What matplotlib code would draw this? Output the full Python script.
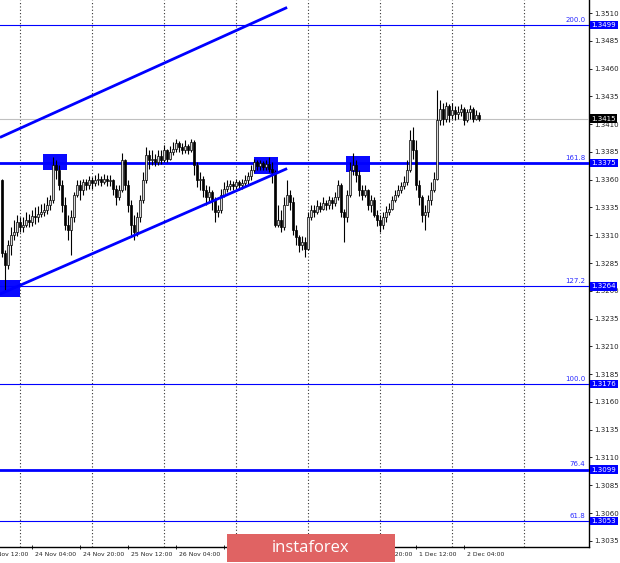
import matplotlib
matplotlib.use("Agg")
import matplotlib.pyplot as plt
from matplotlib.patches import Rectangle

# hourly GBP/USD candles (open of first bar, then close/high/low per bar)
first_open = 1.3360
close = [1.3294, 1.3283, 1.3301, 1.3310, 1.3313, 1.3322, 1.3317, 1.3319, 1.3324, 1.3322,
         1.3327, 1.3326, 1.3329, 1.3331, 1.3333, 1.3337, 1.3342, 1.3373, 1.3369, 1.3355,
         1.3337, 1.3319, 1.3315, 1.3326, 1.3346, 1.3355, 1.3351, 1.3358, 1.3355, 1.3360,
         1.3357, 1.3360, 1.3361, 1.3358, 1.3361, 1.3359, 1.3360, 1.3352, 1.3344, 1.3351,
         1.3378, 1.3355, 1.3337, 1.3319, 1.3313, 1.3326, 1.3342, 1.3360, 1.3382, 1.3378,
         1.3379, 1.3376, 1.3381, 1.3378, 1.3387, 1.3379, 1.3385, 1.3388, 1.3393, 1.3389,
         1.3387, 1.3390, 1.3387, 1.3394, 1.3373, 1.3360, 1.3361, 1.3351, 1.3344, 1.3349,
         1.3342, 1.3331, 1.3333, 1.3346, 1.3352, 1.3354, 1.3356, 1.3354, 1.3358, 1.3355,
         1.3357, 1.3360, 1.3363, 1.3369, 1.3376, 1.3372, 1.3375, 1.3371, 1.3374, 1.3370,
         1.3367, 1.3319, 1.3324, 1.3317, 1.3337, 1.3346, 1.3340, 1.3315, 1.3308, 1.3301,
         1.3304, 1.3298, 1.3326, 1.3333, 1.3331, 1.3336, 1.3334, 1.3339, 1.3337, 1.3342,
         1.3339, 1.3344, 1.3355, 1.3331, 1.3326, 1.3346, 1.3369, 1.3373, 1.3364, 1.3351,
         1.3346, 1.3351, 1.3337, 1.3342, 1.3328, 1.3324, 1.3319, 1.3326, 1.3331, 1.3334,
         1.3342, 1.3346, 1.3351, 1.3354, 1.3358, 1.3369, 1.3396, 1.3387, 1.3355, 1.3344,
         1.3328, 1.3331, 1.3342, 1.3351, 1.3361, 1.3414, 1.3424, 1.3415, 1.3426, 1.3418,
         1.3423, 1.3419, 1.3421, 1.3424, 1.3414, 1.3421, 1.3424, 1.3415, 1.3418, 1.3415]
high = [1.3361, 1.3297, 1.3306, 1.3317, 1.3324, 1.3328, 1.3326, 1.3326, 1.3331, 1.3329,
        1.3333, 1.3335, 1.3336, 1.3338, 1.3339, 1.3344, 1.3346, 1.3380, 1.3378, 1.3373,
        1.3360, 1.3344, 1.3328, 1.3333, 1.3349, 1.3360, 1.3360, 1.3361, 1.3361, 1.3363,
        1.3362, 1.3364, 1.3366, 1.3363, 1.3365, 1.3364, 1.3364, 1.3361, 1.3355, 1.3355,
        1.3384, 1.3379, 1.3360, 1.3342, 1.3328, 1.3331, 1.3346, 1.3367, 1.3389, 1.3387,
        1.3387, 1.3383, 1.3387, 1.3387, 1.3391, 1.3388, 1.3390, 1.3394, 1.3397, 1.3395,
        1.3393, 1.3396, 1.3392, 1.3397, 1.3396, 1.3376, 1.3367, 1.3363, 1.3355, 1.3354,
        1.3351, 1.3344, 1.3337, 1.3352, 1.3358, 1.3360, 1.3360, 1.3359, 1.3361, 1.3360,
        1.3361, 1.3364, 1.3367, 1.3373, 1.3379, 1.3378, 1.3378, 1.3377, 1.3378, 1.3380,
        1.3376, 1.3369, 1.3337, 1.3333, 1.3344, 1.3360, 1.3351, 1.3344, 1.3319, 1.3310,
        1.3309, 1.3308, 1.3331, 1.3337, 1.3337, 1.3342, 1.3340, 1.3344, 1.3342, 1.3345,
        1.3344, 1.3349, 1.3360, 1.3357, 1.3334, 1.3351, 1.3376, 1.3384, 1.3378, 1.3369,
        1.3355, 1.3355, 1.3352, 1.3346, 1.3344, 1.3333, 1.3328, 1.3331, 1.3336, 1.3339,
        1.3345, 1.3351, 1.3355, 1.3358, 1.3363, 1.3378, 1.3405, 1.3407, 1.3396, 1.3360,
        1.3346, 1.3337, 1.3346, 1.3358, 1.3367, 1.3441, 1.3432, 1.3429, 1.3430, 1.3428,
        1.3429, 1.3426, 1.3426, 1.3428, 1.3425, 1.3424, 1.3427, 1.3425, 1.3423, 1.3421]
low = [1.3290, 1.3261, 1.3280, 1.3292, 1.3306, 1.3309, 1.3313, 1.3313, 1.3317, 1.3317,
       1.3318, 1.3320, 1.3322, 1.3326, 1.3327, 1.3329, 1.3333, 1.3339, 1.3361, 1.3351,
       1.3331, 1.3315, 1.3306, 1.3292, 1.3322, 1.3344, 1.3342, 1.3346, 1.3351, 1.3352,
       1.3352, 1.3354, 1.3355, 1.3354, 1.3356, 1.3354, 1.3354, 1.3346, 1.3337, 1.3342,
       1.3349, 1.3351, 1.3331, 1.3310, 1.3306, 1.3309, 1.3322, 1.3339, 1.3357, 1.3370,
       1.3373, 1.3372, 1.3373, 1.3374, 1.3376, 1.3376, 1.3378, 1.3382, 1.3385, 1.3385,
       1.3383, 1.3384, 1.3383, 1.3385, 1.3364, 1.3353, 1.3351, 1.3344, 1.3337, 1.3340,
       1.3333, 1.3322, 1.3326, 1.3330, 1.3344, 1.3349, 1.3351, 1.3351, 1.3352, 1.3351,
       1.3352, 1.3354, 1.3356, 1.3360, 1.3367, 1.3369, 1.3369, 1.3369, 1.3369, 1.3367,
       1.3357, 1.3317, 1.3317, 1.3313, 1.3315, 1.3337, 1.3333, 1.3310, 1.3301, 1.3295,
       1.3297, 1.3290, 1.3297, 1.3324, 1.3326, 1.3329, 1.3331, 1.3333, 1.3333, 1.3334,
       1.3334, 1.3336, 1.3342, 1.3326, 1.3304, 1.3322, 1.3344, 1.3364, 1.3358, 1.3345,
       1.3342, 1.3344, 1.3333, 1.3331, 1.3326, 1.3318, 1.3313, 1.3316, 1.3322, 1.3328,
       1.3333, 1.3340, 1.3344, 1.3348, 1.3352, 1.3355, 1.3367, 1.3379, 1.3351, 1.3337,
       1.3322, 1.3315, 1.3326, 1.3337, 1.3349, 1.3360, 1.3409, 1.3409, 1.3412, 1.3412,
       1.3415, 1.3414, 1.3415, 1.3417, 1.3409, 1.3412, 1.3415, 1.3412, 1.3414, 1.3413]

# Fibonacci levels
fib_names = ["200.0", "161.8", "127.2", "100.0", "76.4", "61.8"]
fib_prices = [1.3499, 1.3375, 1.3264, 1.3176, 1.3099, 1.3053]
fib_thick = [False, True, False, False, True, False]
last_price = 1.3415

# price axis
y_ticks = [1.3510, 1.3485, 1.3460, 1.3435, 1.3410, 1.3385, 1.3360, 1.3335, 1.3310, 1.3285,
           1.3260, 1.3235, 1.3210, 1.3185, 1.3160, 1.3135, 1.3110, 1.3085, 1.3060, 1.3035]

# time axis (bar index of each label)
time_pos = [-6, 10, 26, 42, 58, 74, 90, 106, 122, 138, 154]
time_labels = ["23 Nov 12:00", "24 Nov 04:00", "24 Nov 20:00", "25 Nov 12:00", "26 Nov 04:00",
               "26 Nov 20:00", "27 Nov 12:00", "30 Nov 04:00", "30 Nov 20:00", "1 Dec 12:00",
               "2 Dec 04:00"]
day_starts = [6, 30, 54, 78, 102, 126, 150, 174]

# marked touches (bar, price) and trend channel (bar, price pairs)
touch_bars = [17.5, 2, 88, 118.5]
touch_prices = [1.3376, 1.3262, 1.3373, 1.3374]
upper_line = ([-0.7, 95], [1.3398, 1.3515])
lower_line = ([-0.7, 95], [1.3257, 1.3370])

BLUE = "#0000ff"

fig = plt.figure(figsize=(6.2, 5.63), dpi=100)
ax = fig.add_axes([0, 16 / 563, 589 / 620, 547 / 563])
ax.set_xlim(-0.67, 195.6)
ax.set_ylim(1.30294, 1.35217)

for s in ["top", "left"]:
    ax.spines[s].set_visible(False)
for s in ["right", "bottom"]:
    ax.spines[s].set_color("black")
    ax.spines[s].set_linewidth(1)

# grid (day separators)
for d in day_starts:
    ax.axvline(d, color="#333333", lw=0.8, ls=(0, (1, 2)), zorder=1)

# touch boxes (drawn under candles)
for b, p in zip(touch_bars, touch_prices):
    ax.add_patch(Rectangle((b - 4, p - 0.00075), 8, 0.0015, fc="#0a0aff", ec="none", zorder=2))

# fib levels
for name, p, thick in zip(fib_names, fib_prices, fib_thick):
    ax.axhline(p, color=BLUE, lw=2 if thick else 0.8, zorder=3)
    ax.text(0.994, p + 0.0002, name, transform=ax.get_yaxis_transform(), ha="right", va="bottom",
            fontsize=5, color="#2a2aff", zorder=6)
    ax.text(1.0045, p, f"{p:.4f}", transform=ax.get_yaxis_transform(), ha="left", va="center",
            fontsize=5, color="white", clip_on=False, zorder=10,
            bbox=dict(boxstyle="square,pad=0.18", fc=BLUE, ec="none"))

ax.axhline(last_price, color="#c0c0c0", lw=0.8, zorder=3)
ax.text(1.0045, last_price, f"{last_price:.4f}", transform=ax.get_yaxis_transform(), ha="left",
        va="center", fontsize=5, color="white", clip_on=False, zorder=10,
        bbox=dict(boxstyle="square,pad=0.18", fc="black", ec="none"))

# trend channel
ax.plot(*upper_line, color=BLUE, lw=2, zorder=5, solid_capstyle="butt")
ax.plot(*lower_line, color=BLUE, lw=2, zorder=5, solid_capstyle="butt")

# candles
opens = [first_open] + close[:-1]
idx = list(range(len(close)))
ax.vlines(idx, low, high, color="black", lw=0.8, zorder=4)
for i, o, c in zip(idx, opens, close):
    bottom = min(o, c)
    h = max(abs(c - o), 0.00003)
    up = c >= o
    ax.bar(i, h, bottom=bottom, width=0.7, color="#d8d8d8" if up else "black",
           edgecolor="black", linewidth=0.5, zorder=4.5)

# axes ticks
ax.yaxis.tick_right()
ax.set_yticks(y_ticks)
ax.set_yticklabels([f"{t:.4f}" for t in y_ticks])
ax.tick_params(axis="y", length=2, width=0.6, pad=2, labelsize=5, colors="black",
               labelcolor="#222222")
ax.set_xticks([p for p in time_pos if p > 0])
ax.set_xticklabels([])
ax.tick_params(axis="x", length=3, width=0.6, direction="inout")
for p, lab in zip(time_pos, time_labels):
    ax.text(p + 1, -0.013, lab, transform=ax.get_xaxis_transform(), ha="left", va="center",
            fontsize=4.4, color="#222222", clip_on=False)

# watermark logo
fig.add_artist(Rectangle((227 / 620, 1 / 563), 168 / 620, 28 / 563, transform=fig.transFigure,
                         fc="#e06363", ec="none", zorder=20))
fig.text(311 / 620, 15 / 563, "instaforex", ha="center", va="center", fontsize=12,
         color="white", family="Open Sans", zorder=21)

fig.savefig("out.png", dpi=100)
